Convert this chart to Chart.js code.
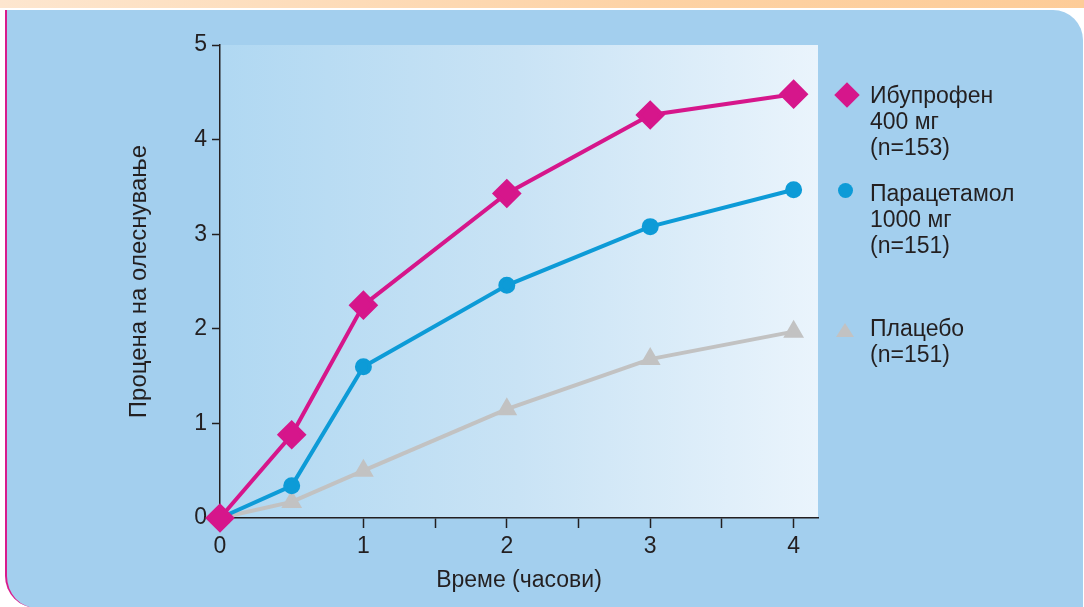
<!DOCTYPE html>
<html>
<head>
<meta charset="utf-8">
<script src="https://cdn.jsdelivr.net/npm/chart.js@4/dist/chart.umd.min.js"></script>
<style>
  html, body { margin: 0; padding: 0; background: #fff; }
  #wrap { position: relative; width: 1084px; height: 607px; overflow: hidden; font-family: "Liberation Sans", Arial, sans-serif; }
  #strip { position: absolute; left: 0; top: 0; width: 1084px; height: 8px; background: linear-gradient(to right, #fde6cf, #fdd2a4 60%, #fdcc98); }
  #panel { position: absolute; left: 5px; top: 10px; width: 1076px; height: 598px; background: #a3cfee; border-left: 2px solid #d81b8c; border-radius: 0 30px 0 32px; }
  #myChart { position: absolute; left: 0; top: 0; }
  .leg { position: absolute; left: 870px; color: #231f20; font-size: 23px; line-height: 26px; white-space: nowrap; }
  .mk { position: absolute; }
</style>
</head>
<body>
<div id="wrap">
  <div id="strip"></div>
  <div id="panel"></div>
  <canvas id="myChart" width="1084" height="607"></canvas>
  <div class="mk" style="left:838px;top:86px;width:18px;height:18px;background:#d6168b;transform:rotate(45deg);"></div>
  <div class="leg" style="top:82px;">Ибупрофен<br>400 мг<br>(n=153)</div>
  <div class="mk" style="left:838px;top:183px;width:15px;height:15px;border-radius:50%;background:#0d9bd7;"></div>
  <div class="leg" style="top:180px;">Парацетамол<br>1000 мг<br>(n=151)</div>
  <div class="mk" style="left:836px;top:323px;width:0;height:0;border-left:9px solid transparent;border-right:9px solid transparent;border-bottom:14px solid #c2c2c2;"></div>
  <div class="leg" style="top:315px;">Плацебо<br>(n=151)</div>
</div>
<script>
var ctx = document.querySelector('#myChart');

// hours
var timeValues = [0, 0.5, 1, 2, 3, 4];
var ibuprofenValues = [0, 0.88, 2.25, 3.43, 4.26, 4.48];
var paracetamolValues = [0, 0.34, 1.6, 2.46, 3.08, 3.47];
var placeboValues = [0, 0.17, 0.5, 1.15, 1.68, 1.97];
var xTickLabels = ['0', '1', '2', '3', '4'];
var yTickLabels = ['0', '1', '2', '3', '4', '5'];

const COLOR_IBUPROFEN = '#d6168b';
const COLOR_PARACETAMOL = '#0d9bd7';
const COLOR_PLACEBO = '#c2c2c2';
const AXIS_COLOR = '#231f20';
const FONT_FAMILY = '"Liberation Sans", Arial, sans-serif';

function toPoints(values){
  return values.map((v, i) => ({x: timeValues[i], y: v}));
}

// plot area gradient behind the lines
const plotBackground = {
  id: 'plotBackground',
  beforeDraw(chart){
    const a = chart.chartArea;
    const c = chart.ctx;
    const g = c.createLinearGradient(a.left, 0, a.right, 0);
    g.addColorStop(0, '#b0d8f2');
    g.addColorStop(0.5, '#c9e3f5');
    g.addColorStop(1, '#eaf4fc');
    c.save();
    c.fillStyle = g;
    c.fillRect(a.left, a.top, a.right - a.left, a.bottom - a.top);
    c.restore();
  }
};

Chart.defaults.font.family = FONT_FAMILY;
Chart.defaults.color = AXIS_COLOR;

new Chart(ctx, {
  type: 'line',
  data: {
    datasets: [
      {
        label: 'Ибупрофен 400 мг (n=153)',
        data: toPoints(ibuprofenValues),
        borderColor: COLOR_IBUPROFEN,
        backgroundColor: COLOR_IBUPROFEN,
        borderWidth: 4,
        pointStyle: 'rectRot',
        pointRadius: 12,
        clip: false
      },
      {
        label: 'Парацетамол 1000 мг (n=151)',
        data: toPoints(paracetamolValues),
        borderColor: COLOR_PARACETAMOL,
        backgroundColor: COLOR_PARACETAMOL,
        borderWidth: 4,
        pointStyle: 'circle',
        pointRadius: 6.5,
        clip: false
      },
      {
        label: 'Плацебо (n=151)',
        data: toPoints(placeboValues),
        borderColor: COLOR_PLACEBO,
        backgroundColor: COLOR_PLACEBO,
        borderWidth: 4,
        pointStyle: 'triangle',
        pointRadius: 8,
        clip: false
      }
    ]
  },
  options: {
    responsive: false,
    animation: false,
    layout: { padding: { left: 0, top: 45, right: 266, bottom: 0 } },
    plugins: { legend: { display: false }, tooltip: { enabled: false } },
    elements: { line: { tension: 0 } },
    scales: {
      x: {
        type: 'linear',
        min: 0,
        max: 4.17,
        afterFit: (scale) => { scale.height = 89; },
        afterBuildTicks: (scale) => {
          var t = [];
          for (var v = 0; v <= 4; v += 0.5) t.push({value: v});
          scale.ticks = t;
        },
        ticks: {
          autoSkip: false,
          padding: 5,
          maxRotation: 0,
          font: { size: 23 },
          color: AXIS_COLOR,
          callback: (v) => Number.isInteger(v) ? xTickLabels[v] : ''
        },
        grid: {
          drawOnChartArea: false,
          tickLength: 10,
          tickWidth: 1.5,
          tickColor: (c) => (c.tick && c.tick.value === 0.5) ? 'rgba(0,0,0,0)' : AXIS_COLOR
        },
        border: { color: AXIS_COLOR, width: 1.5 },
        title: {
          display: true,
          text: 'Време (часови)',
          font: { size: 23 },
          color: AXIS_COLOR,
          padding: { top: 0, bottom: 13 }
        }
      },
      y: {
        min: 0,
        max: 5,
        afterFit: (scale) => { scale.width = 220; },
        ticks: {
          stepSize: 1,
          padding: 5,
          font: { size: 23 },
          color: AXIS_COLOR,
          callback: (v) => yTickLabels[v]
        },
        grid: {
          drawOnChartArea: false,
          tickLength: 8,
          tickWidth: 1.5,
          tickColor: AXIS_COLOR
        },
        border: { color: AXIS_COLOR, width: 1.5 },
        title: {
          display: true,
          text: 'Процена на олеснување',
          font: { size: 24 },
          color: AXIS_COLOR,
          padding: { top: 125, bottom: 0 }
        }
      }
    }
  },
  plugins: [plotBackground]
});
</script>
</body>
</html>
